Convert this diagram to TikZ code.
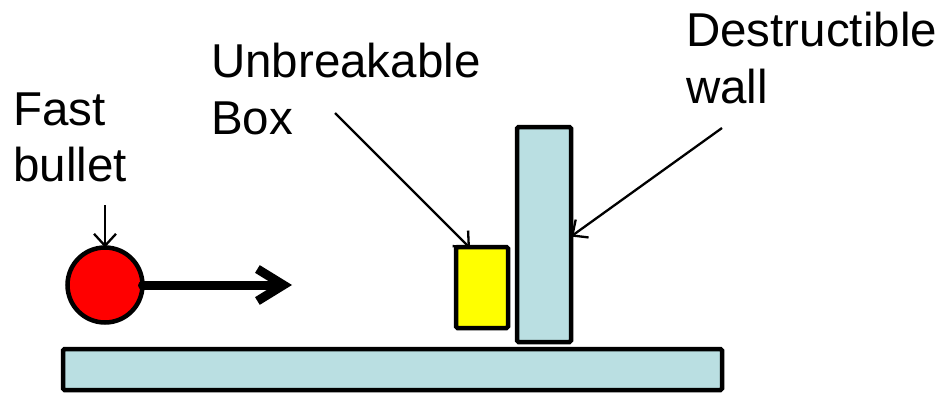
\documentclass[tikz,border=0pt]{standalone}
\usepackage{fontspec}
\setmainfont{Liberation Sans}
\usetikzlibrary{arrows.meta}
\definecolor{lblue}{RGB}{186,223,226}
\definecolor{pyellow}{RGB}{255,255,0}
\begin{document}
\begin{tikzpicture}[x=1pt,y=-1pt,
  lbl/.style={anchor=base west,inner sep=0pt,font=\fontsize{47.5}{55}\selectfont},
  solid/.style={draw=black,line width=4.5pt,rounded corners=1.5pt,inner sep=0pt,outer sep=0pt},
  thinarrow/.style={line width=2.3pt,-{Straight Barb[length=12pt,width=22pt]}},
  thickarrow/.style={line width=9pt,line cap=round,-{Straight Barb[length=26pt,width=32pt]}}]
\useasboundingbox (0,0) rectangle (949,393);
% labels
\node[lbl] (fast1) at (13,125) {Fast};
\node[lbl] (fast2) at (13,181) {bullet};
\node[lbl] (unb1) at (211,78) {Unbreakable};
\node[lbl] (unb2) at (211,134) {Box};
\node[lbl] (des1) at (686,47) {Destructible};
\node[lbl] (des2) at (686,103) {wall};
% shapes
\node[solid,fill=lblue,minimum width=659pt,minimum height=41pt] (ground) at (392.5,369.5) {};
\node[solid,fill=lblue,minimum width=54pt,minimum height=215pt] (wall) at (544,234.5) {};
\node[solid,fill=pyellow,minimum width=52pt,minimum height=81pt] (box) at (482,287.5) {};
\node[circle,draw=black,line width=4.5pt,fill=red,minimum size=75pt,inner sep=0pt,outer sep=0pt] (ball) at (105,285) {};
% connectors
\coordinate (fasttail) at (105,205);
\coordinate (boxtail) at (335,113);
\coordinate (walltail) at (722,128);
\coordinate (motion) at (292,285);
\draw[thinarrow] (fasttail) -- (ball.north);
\draw[thinarrow] (boxtail) -- ([xshift=14pt,yshift=-1pt]box.north west);
\draw[thinarrow] (walltail) -- ([yshift=-2pt]wall.east);
\draw[thickarrow] (ball.east) -- (motion);
\end{tikzpicture}
\end{document}
